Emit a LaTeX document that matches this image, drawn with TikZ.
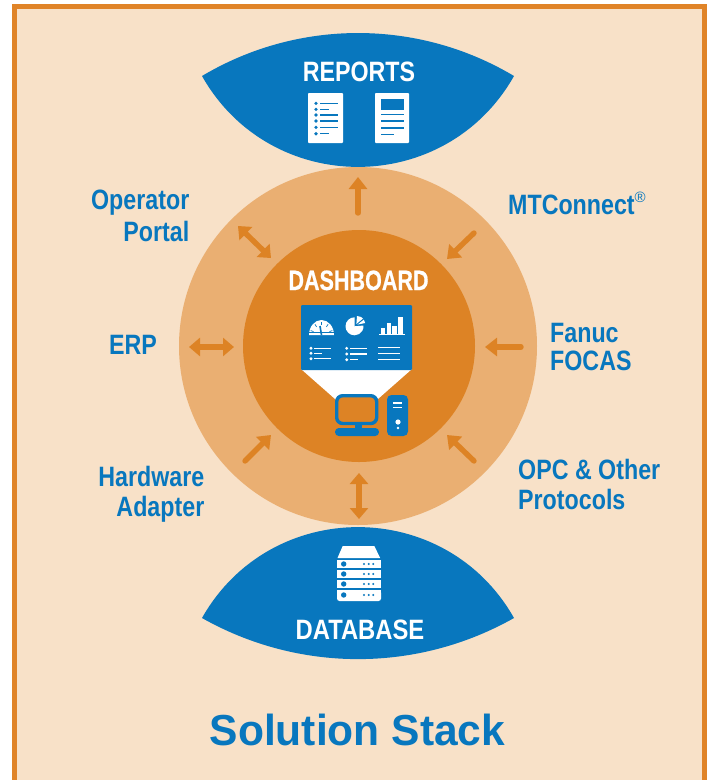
\documentclass[tikz,border=0pt]{standalone}
\usepackage{fontspec}
\setmainfont{Liberation Sans}[FakeStretch=0.83]
\newfontfamily\titlefont{Liberation Sans}[FakeStretch=0.98]
\newfontfamily\dashfont{Liberation Sans}[FakeStretch=0.77,FakeBold=0.6]
\newfontfamily\dbfont{Liberation Sans}[FakeStretch=0.85]
\newfontfamily\plainfont{Liberation Sans}
\usetikzlibrary{arrows.meta}
\definecolor{framec}{HTML}{E08428}
\definecolor{peach}{HTML}{F8E1C8}
\definecolor{ring}{HTML}{EAAF72}
\definecolor{core}{HTML}{DD8325}
\definecolor{blu}{HTML}{0877BE}
\tikzset{
  x=1pt,y=-1pt,
  lbl/.style={text=blu,font=\bfseries\fontsize{28}{30}\selectfont,inner sep=0pt},
  whitetitle/.style={text=white,font=\bfseries\fontsize{28}{30}\selectfont,inner sep=0pt,anchor=base},
  oneway/.style={draw=core,line width=5.4pt,line cap=round,-{Triangle[width=18pt,length=12pt]}},
  twoway/.style={draw=core,line width=5.4pt,{Triangle[width=18pt,length=11pt]}-{Triangle[width=18pt,length=11pt]}},
  wline/.style={draw=white,line width=1.5pt},
  bline/.style={draw=blu,line width=1.4pt},
}
\begin{document}
\begin{tikzpicture}
\useasboundingbox (0,0) rectangle (710,780);
\fill[white] (0,0) rectangle (710,780);
\fill[peach] (14.5,6.5) rectangle (704.5,780);
\draw[framec,line width=4.8pt] (14.5,780) -- (14.5,6.5) -- (704.5,6.5) -- (704.5,780);

% rings
\fill[ring] (358,346) circle[radius=179];
\fill[core] (359,346) circle[radius=116];

% lenses
\fill[blu] (202,76) .. controls (298,18.7) and (418,18.7) .. (514,76)
   .. controls (445.4,197.2) and (270.6,197.2) .. (202,76) -- cycle;
\fill[blu] (202,618) .. controls (270.6,496.8) and (445.4,496.8) .. (514,618)
   .. controls (417,672.8) and (299,672.8) .. (202,618) -- cycle;

% lens titles
\node[whitetitle] (reports) at (359,81) {REPORTS};
\node[whitetitle,font=\dbfont\bfseries\fontsize{28}{30}\selectfont] (database) at (360,639) {DATABASE};
\node[whitetitle,font=\dashfont\bfseries\fontsize{28}{30}\selectfont] (dashboard) at (358.5,290) {DASHBOARD};

% report icons
\fill[white,rounded corners=0.8pt] (308,93) rectangle (343,143);
\foreach \yy/\xe in {103.3/338,109.3/328.5,115/338,121/338,127.3/338,133.7/329}{
  \fill[blu] (316,\yy) circle[radius=1.8];
  \draw[bline] (320,\yy) -- (\xe,\yy);
}
\fill[white,rounded corners=0.8pt] (375,93) rectangle (409,143);
\fill[blu] (381,99) rectangle (404,110);
\foreach \yy/\xe in {114.7/404,121/404,128/404,134.3/394}{
  \draw[bline] (381,\yy) -- (\xe,\yy);
}

% dashboard screen
\fill[white] (301,369) -- (412,369) -- (370,406) -- (343,406) -- cycle;
\fill[blu,rounded corners=1pt] (301,305) rectangle (412,370);
% gauge
\fill[white] (309,335) arc[start angle=180,end angle=0,x radius=12.5,y radius=-15] -- cycle;
\foreach \a in {20,55,90,125,160}{
  \draw[blu,line width=0.7pt] (321.5,335) ++({11.5*cos(\a)},{-13*sin(\a)}) -- ++({-3*cos(\a)},{3*sin(\a)});
}
\draw[blu,line width=1.6pt] (321.5,335) -- (320,326);
\draw[blu,line width=0.7pt] (309,332.6) -- (334,332.6);
% pie
\fill[white] (354.5,326.3) -- ++(0,-9) arc[start angle=-90,end angle=-365,radius=9] -- cycle;
\fill[white] (356.4,324) -- (357,316) .. controls (360,316.2) and (362,317.3) .. (363,318.5) -- cycle;
\fill[white] (357.4,324.6) -- (363.8,319.7) .. controls (364.5,320.7) and (365,321.8) .. (365.2,323) -- cycle;
% bars
\draw[white,line width=0.9pt] (379,334.6) -- (405,334.6);
\fill[white] (380.5,327.7) rectangle (385,334);
\fill[white] (386.5,322.7) rectangle (391,334);
\fill[white] (392.3,326) rectangle (397,334);
\fill[white] (398.3,317.3) rectangle (403,334);
% lists
\foreach \yy/\xe in {348.3/330.7,353.3/322,358.7/330.7}{
  \fill[white] (311,\yy) circle[radius=1.6];
  \draw[wline] (314.3,\yy) -- (\xe,\yy);
}
\foreach \yy/\xe in {348.3/366.7,354/366.7,359.7/358}{
  \fill[white] (346.7,\yy) circle[radius=1.6];
  \draw[wline] (350,\yy) -- (\xe,\yy);
}
\foreach \yy in {347.3,353.3,359.3}{
  \draw[wline] (378.3,\yy) -- (400,\yy);
}
% monitor
\fill[blu] (355,424) rectangle (362,430);
\fill[blu,rounded corners=3.8pt] (335,428) rectangle (379,436);
\draw[blu,fill=core,line width=3.4pt,rounded corners=6pt] (336.7,395.7) rectangle (376.7,423.5);
% tower
\fill[blu,rounded corners=4.5pt] (387,395) rectangle (408,436);
\draw[wline] (393,403) -- (402,403);
\draw[wline] (393,407.3) -- (402,407.3);
\fill[white] (398,422) circle[radius=2.6];
\fill[white] (398,428) circle[radius=1.3];

% server icon
\fill[white] (337.5,558) -- (342.7,546) -- (374.3,546) -- (380.2,558) -- cycle;
\foreach \yt in {560,570,580}{
  \fill[white] (337,\yt) rectangle (381,\yt+8.4);
}
\fill[white,rounded corners=2.5pt] (337,590) rectangle (381,601);
\fill[white] (337,590) rectangle (381,595);
\foreach \yc in {564,574,584,595}{
  \fill[blu] (343.7,\yc) circle[radius=2.7];
  \foreach \xc in {364,368.7,373.3}{ \fill[blu] (\xc,\yc) circle[radius=1.1]; }
}

% arrow end points
\coordinate (upA) at (358,213);   \coordinate (upB) at (358,177);
\coordinate (opA) at (238,226);   \coordinate (opB) at (271,258);
\coordinate (erpA) at (189,347);  \coordinate (erpB) at (234,347);
\coordinate (mtA) at (474,233);   \coordinate (mtB) at (447,259);
\coordinate (faA) at (521,347);   \coordinate (faB) at (485,347);
\coordinate (hwA) at (245,461);   \coordinate (hwB) at (271,435);
\coordinate (opcA) at (474,461);  \coordinate (opcB) at (447,435);
\coordinate (dbA) at (359,473);   \coordinate (dbB) at (359,519);
\draw[oneway] (upA) -- (upB);
\draw[twoway] (opA) -- (opB);
\draw[twoway] (erpA) -- (erpB);
\draw[oneway] (mtA) -- (mtB);
\draw[oneway] (faA) -- (faB);
\draw[oneway] (hwA) -- (hwB);
\draw[oneway] (opcA) -- (opcB);
\draw[twoway] (dbA) -- (dbB);

% side labels
\node[lbl,anchor=east,align=right] (portal) at (189.5,215.5) {Operator\\[2pt]Portal};
\node[lbl,anchor=east] (erp) at (157,345) {ERP};
\node[lbl,anchor=east,align=right] (hardware) at (204.5,494) {Hardware\\Adapter};
\node[lbl,anchor=west] (mtc) at (508,203.5) {MTConnect\raisebox{12pt}{\plainfont\fontsize{15}{15}\selectfont\mdseries ®}};
\node[lbl,anchor=west,align=left] (fanuc) at (550,347) {Fanuc\\[-2pt]FOCAS};
\node[lbl,anchor=west,align=left] (opc) at (518,484) {OPC \& Other\\Protocols};

% title
\node[text=blu,font=\titlefont\bfseries\fontsize{43.4}{45}\selectfont,inner sep=0pt,anchor=base] (title) at (357.5,745) {Solution Stack};
\end{tikzpicture}
\end{document}
